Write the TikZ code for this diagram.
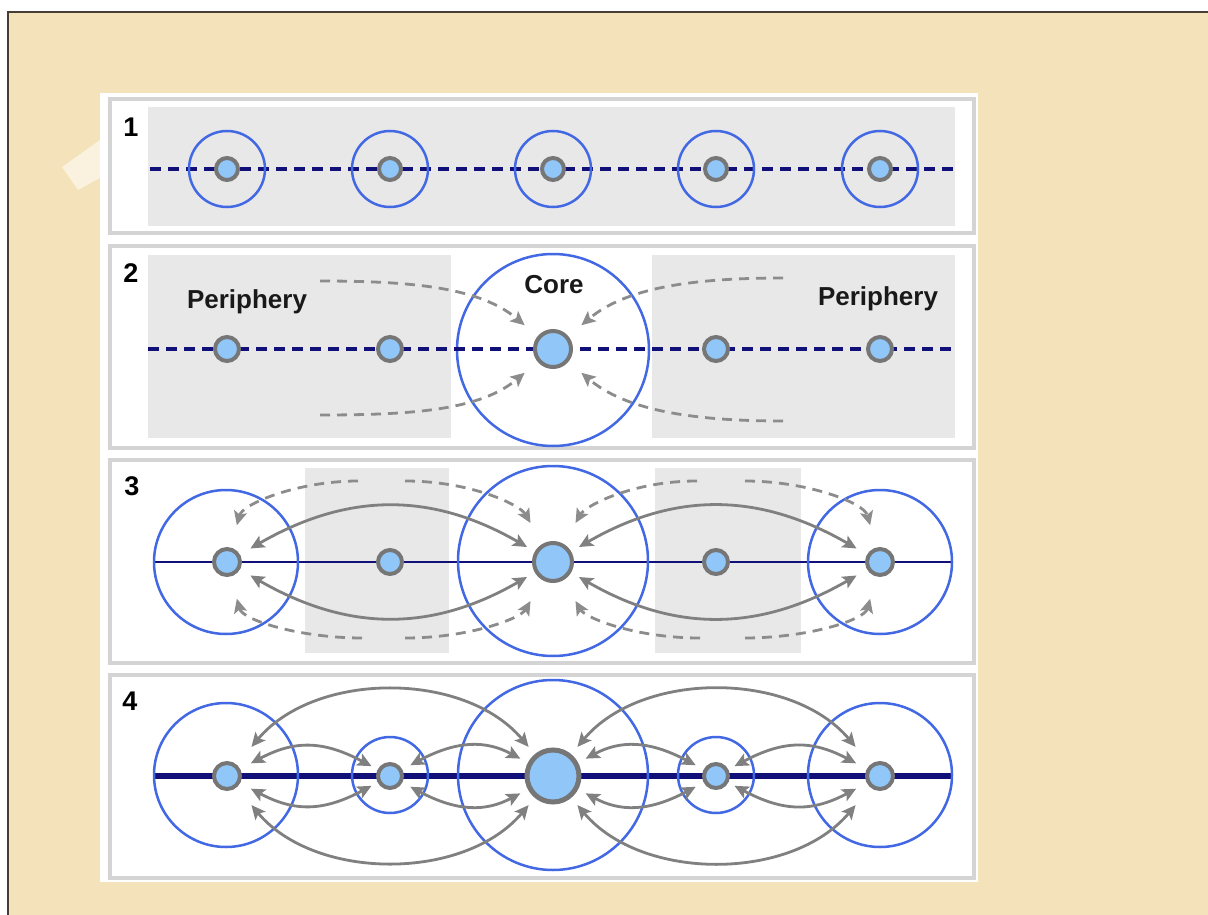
\documentclass[tikz,border=0pt]{standalone}
\usepackage{fontspec}
\setmainfont{Liberation Sans}
\usetikzlibrary{arrows.meta}
\definecolor{beige}{RGB}{244,226,186}
\definecolor{darkedge}{RGB}{70,62,52}
\definecolor{tape}{RGB}{250,241,222}
\definecolor{framegrey}{RGB}{212,212,212}
\definecolor{panelgrey}{RGB}{232,232,232}
\definecolor{ringblue}{RGB}{66,104,228}
\definecolor{nodefill}{RGB}{145,198,248}
\definecolor{nodeedge}{RGB}{118,118,118}
\definecolor{navyline}{RGB}{16,16,120}
\definecolor{arrowgrey}{RGB}{128,128,128}
\definecolor{lightarrow}{RGB}{140,140,140}
\tikzset{
  pnode/.style={circle, draw=nodeedge, fill=nodefill, line width=4pt, inner sep=0pt},
  ring/.style={circle, draw=ringblue, line width=2.5pt, inner sep=0pt},
  panelframe/.style={draw=framegrey, line width=4.5pt},
  navydash/.style={draw=navyline, line width=3.3pt, dash pattern=on 11pt off 7pt},
  navysolid/.style={draw=navyline, line width=2.8pt},
  navythick/.style={draw=navyline, line width=6pt},
  arr/.style={draw=arrowgrey, line width=2.8pt, {Stealth[length=14pt,width=13pt,inset=3pt]}-{Stealth[length=14pt,width=13pt,inset=3pt]}},
  darr/.style={draw=lightarrow, line width=2.8pt, dash pattern=on 10pt off 7pt, -{Stealth[length=14pt,width=13pt,inset=3pt]}},
  numlabel/.style={font=\bfseries\fontsize{27}{27}\selectfont, anchor=base, inner sep=0pt},
  wordlabel/.style={font=\bfseries\fontsize{26}{26}\selectfont, anchor=base, inner sep=0pt, text=black!90},
}
\begin{document}
\begin{tikzpicture}[x=1pt,y=-1pt]
\useasboundingbox (0,0) rectangle (1208,915);
\fill[white] (0,0) rectangle (1208,915);
\fill[beige] (8,12) rectangle (1208,915);
\draw[darkedge, line width=1.5pt] (8,915) -- (8,12) -- (1208,12);
\fill[tape] (62,167) -- (100,140) -- (100,178) -- (78,190) -- cycle;
\fill[white] (100,93) rectangle (978,882);

% ---------- panel frames ----------
\draw[panelframe] (110,99) rectangle (974,233);
\draw[panelframe] (110,246) rectangle (974,448);
\draw[panelframe] (110,460) rectangle (974,663);
\draw[panelframe] (110,675) rectangle (974,878);

% ---------- panel 1 ----------
\fill[panelgrey] (148,107) rectangle (955,226);
\node[numlabel] (n1) at (131,137) {1};
\coordinate (l1w) at (150,169);
\coordinate (l1e) at (953,169);
\draw[navydash] (l1w) -- (l1e);
\foreach \i/\x in {a/227,b/390,c/553,d/716,e/880}{
  \node[ring, minimum size=76pt] (r1\i) at (\x,169) {};
  \node[pnode, minimum size=22pt] (c1\i) at (\x,169) {};
}

% ---------- panel 2 ----------
\fill[panelgrey] (148,255) rectangle (451,438);
\fill[panelgrey] (652,255) rectangle (955,438);
\node[numlabel] (n2) at (131,282) {2};
\coordinate (l2w) at (148,349);
\coordinate (l2e) at (953,349);
\node[ring, minimum size=192pt, fill=white] (r2c) at (553,350) {};
\draw[navydash] (l2w) -- (l2e);
\node[pnode, minimum size=24pt] (c2a) at (227,349) {};
\node[pnode, minimum size=24pt] (c2b) at (390,349) {};
\node[pnode, minimum size=36pt] (c2c) at (553,349) {};
\node[pnode, minimum size=24pt] (c2d) at (716,349) {};
\node[pnode, minimum size=24pt] (c2e) at (880,349) {};
\node[wordlabel] (p2l) at (247,308) {Periphery};
\node[wordlabel] (p2r) at (878,305) {Periphery};
\node[wordlabel] (core) at (554,293) {Core};
\coordinate (s2a) at (320,281);
\coordinate (s2b) at (320,415);
\coordinate (s2c) at (783,278);
\coordinate (s2d) at (783,421);
\draw[darr, shorten >=37pt] (s2a) to[out=0,in=140] (c2c.center);
\draw[darr, shorten >=37pt] (s2b) to[out=0,in=-140] (c2c.center);
\draw[darr, shorten >=37pt] (s2c) to[out=180,in=40] (c2c.center);
\draw[darr, shorten >=37pt] (s2d) to[out=180,in=-40] (c2c.center);

% ---------- panel 3 ----------
\fill[panelgrey] (305,468) rectangle (449,653);
\fill[panelgrey] (655,468) rectangle (801,653);
\node[numlabel] (n3) at (132,495) {3};
\coordinate (l3w) at (155,562);
\coordinate (l3e) at (951,562);
\draw[navysolid] (l3w) -- (l3e);
\node[ring, minimum size=144pt] (r3a) at (226,562) {};
\node[ring, minimum size=190pt] (r3c) at (553,561) {};
\node[ring, minimum size=144pt] (r3e) at (880,562) {};
\node[pnode, minimum size=26pt] (c3a) at (227,562) {};
\node[pnode, minimum size=24pt] (c3b) at (390,562) {};
\node[pnode, minimum size=38pt] (c3c) at (553,562) {};
\node[pnode, minimum size=24pt] (c3d) at (716,562) {};
\node[pnode, minimum size=26pt] (c3e) at (880,562) {};
\draw[arr, shorten <=27pt, shorten >=30pt] (c3a.center) to[out=30,in=150,looseness=1.1] (c3c.center);
\draw[arr, shorten <=27pt, shorten >=30pt] (c3a.center) to[out=-30,in=-150,looseness=1.1] (c3c.center);
\draw[arr, shorten <=30pt, shorten >=27pt] (c3c.center) to[out=30,in=150,looseness=1.1] (c3e.center);
\draw[arr, shorten <=30pt, shorten >=27pt] (c3c.center) to[out=-30,in=-150,looseness=1.1] (c3e.center);
\coordinate (s3a) at (358,481);
\coordinate (s3b) at (405,481);
\coordinate (s3c) at (362,638);
\coordinate (s3d) at (405,638);
\coordinate (s3e) at (697,481);
\coordinate (s3f) at (745,481);
\coordinate (s3g) at (700,638);
\coordinate (s3h) at (745,638);
\draw[darr, shorten >=38pt] (s3a) to[out=180,in=75] (c3a.center);
\draw[darr, shorten >=45pt] (s3b) to[out=0,in=120] (c3c.center);
\draw[darr, shorten >=38pt] (s3c) to[out=180,in=-75] (c3a.center);
\draw[darr, shorten >=45pt] (s3d) to[out=0,in=-120] (c3c.center);
\draw[darr, shorten >=45pt] (s3e) to[out=180,in=60] (c3c.center);
\draw[darr, shorten >=38pt] (s3f) to[out=0,in=105] (c3e.center);
\draw[darr, shorten >=45pt] (s3g) to[out=180,in=-60] (c3c.center);
\draw[darr, shorten >=38pt] (s3h) to[out=0,in=-105] (c3e.center);

% ---------- panel 4 ----------
\node[numlabel] (n4) at (130,710) {4};
\coordinate (l4w) at (155,776);
\coordinate (l4e) at (951,776);
\draw[navythick] (l4w) -- (l4e);
\node[ring, minimum size=144pt] (r4a) at (226,775) {};
\node[ring, minimum size=76pt] (r4b) at (390,775) {};
\node[ring, minimum size=190pt] (r4c) at (553,775) {};
\node[ring, minimum size=76pt] (r4d) at (716,775) {};
\node[ring, minimum size=144pt] (r4e) at (880,775) {};
\node[pnode, minimum size=26pt] (c4a) at (227,776) {};
\node[pnode, minimum size=24pt] (c4b) at (390,776) {};
\node[pnode, minimum size=52pt, line width=5pt] (c4c) at (553,776) {};
\node[pnode, minimum size=24pt] (c4d) at (716,776) {};
\node[pnode, minimum size=26pt] (c4e) at (880,776) {};
% big arcs
\draw[arr, shorten <=38pt, shorten >=38pt] (c4a.center) to[out=50,in=130,looseness=1.08] (c4c.center);
\draw[arr, shorten <=38pt, shorten >=38pt] (c4a.center) to[out=-50,in=-130,looseness=1.08] (c4c.center);
\draw[arr, shorten <=38pt, shorten >=38pt] (c4c.center) to[out=50,in=130,looseness=1.08] (c4e.center);
\draw[arr, shorten <=38pt, shorten >=38pt] (c4c.center) to[out=-50,in=-130,looseness=1.08] (c4e.center);
% small arcs
\draw[arr, shorten <=27pt, shorten >=21pt] (c4a.center) to[out=28,in=152,looseness=1.2] (c4b.center);
\draw[arr, shorten <=27pt, shorten >=21pt] (c4a.center) to[out=-28,in=-152,looseness=1.2] (c4b.center);
\draw[arr, shorten <=23pt, shorten >=37pt] (c4b.center) to[out=28,in=152,looseness=1.2] (c4c.center);
\draw[arr, shorten <=23pt, shorten >=37pt] (c4b.center) to[out=-28,in=-152,looseness=1.2] (c4c.center);
\draw[arr, shorten <=37pt, shorten >=23pt] (c4c.center) to[out=28,in=152,looseness=1.2] (c4d.center);
\draw[arr, shorten <=37pt, shorten >=23pt] (c4c.center) to[out=-28,in=-152,looseness=1.2] (c4d.center);
\draw[arr, shorten <=21pt, shorten >=27pt] (c4d.center) to[out=28,in=152,looseness=1.2] (c4e.center);
\draw[arr, shorten <=21pt, shorten >=27pt] (c4d.center) to[out=-28,in=-152,looseness=1.2] (c4e.center);
\end{tikzpicture}
\end{document}
